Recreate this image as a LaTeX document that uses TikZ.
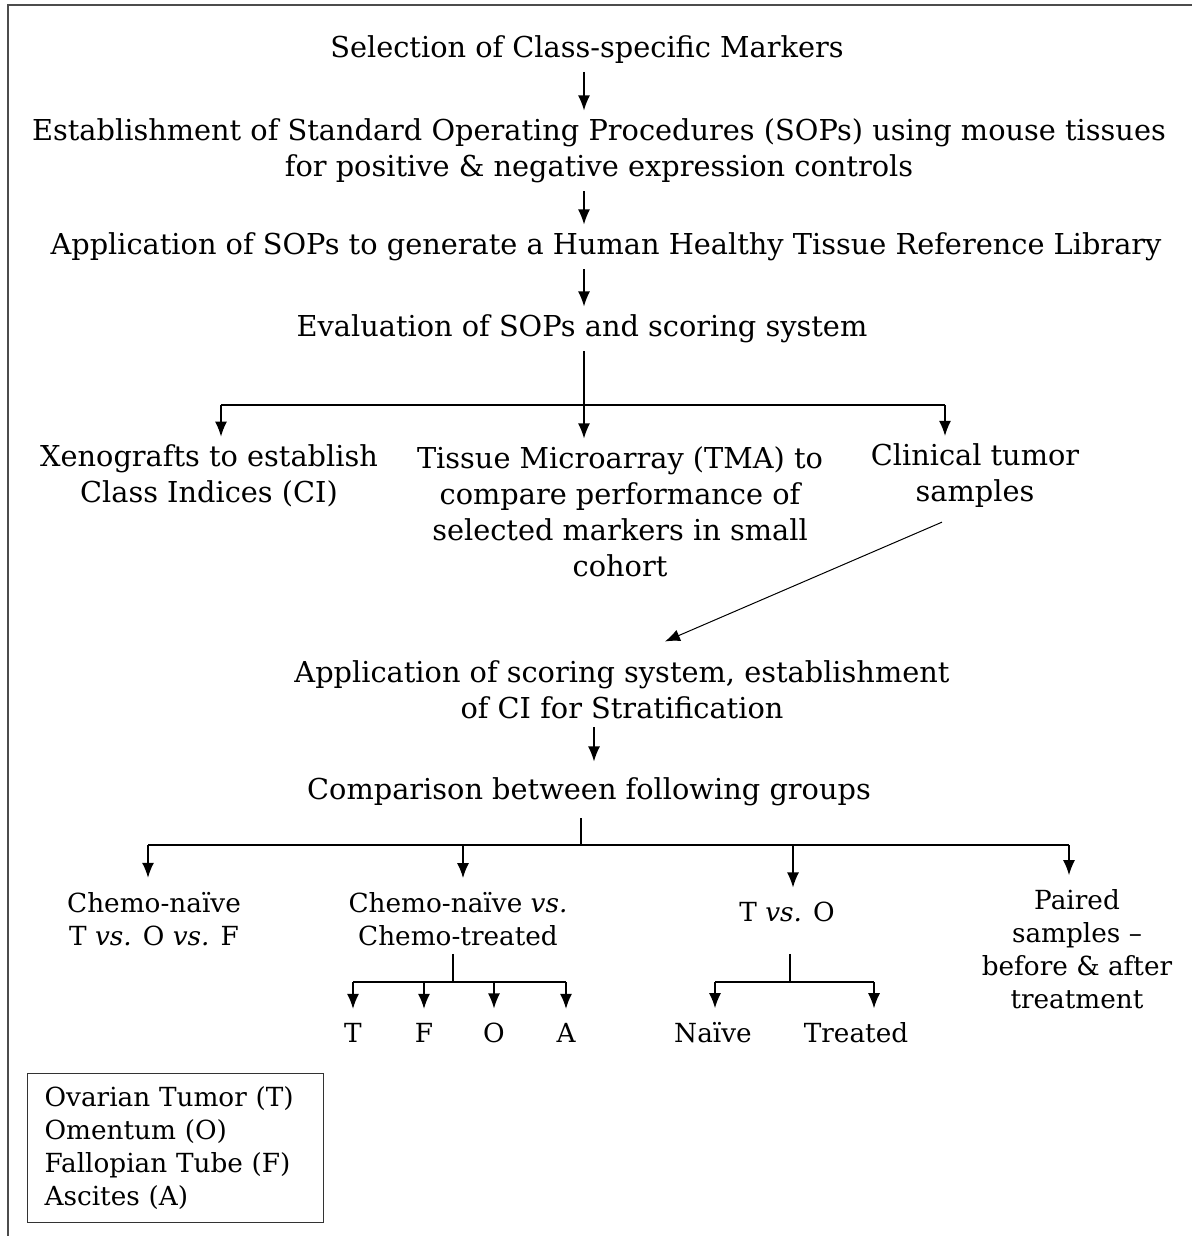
\documentclass[tikz,border=0pt]{standalone}
\usepackage{fontspec}
\setmainfont{DejaVu Serif}
\usetikzlibrary{arrows.meta}
\tikzset{
  stepbox/.style={align=center, inner xsep=8pt, inner ysep=8pt, font=\fontsize{28.8}{36}\selectfont},
  groupbox/.style={align=center, inner xsep=6pt, inner ysep=14pt, font=\fontsize{26.3}{33}\selectfont},
  legendbox/.style={draw=black!80, line width=1.2pt, align=left, text width=262pt,
    inner xsep=17pt, inner ysep=13pt, font=\fontsize{26.3}{33}\selectfont},
  link/.style={line width=1.3pt},
  arr/.style={link, -{Latex[length=15pt,width=12pt]}},
}
\newcommand{\versus}{\textit{vs.}}

\begin{document}
\begin{tikzpicture}[x=1pt,y=-1pt]
  \useasboundingbox (0,0) rectangle (1192,1236);
  % frame
  \draw[line width=1.8pt,black!70] (8,1236) -- (8,5) -- (1192,5);

  % main column
  \coordinate (spine) at (584,0);
  \node[stepbox] (select) at (587,49.8) {Selection of Class-specific Markers};
  \node[stepbox] (sops) at (599,150.8)
    {Establishment of Standard Operating Procedures (SOPs) using mouse tissues\\
     for positive \& negative expression controls};
  \node[stepbox] (library) at (606,246.8)
    {Application of SOPs to generate a Human Healthy Tissue Reference Library};
  \node[stepbox] (evalsop) at (582,328.8) {Evaluation of SOPs and scoring system};
  \draw[arr] (select.south -| spine) -- (sops.north -| spine);
  \draw[arr] (sops.south -| spine) -- (library.north -| spine);
  \draw[arr] (library.south -| spine) -- (evalsop.north -| spine);

  % three studies
  \node[stepbox] (xeno) at (209,476) {Xenografts to establish\\Class Indices (CI)};
  \node[stepbox] (tma) at (620,511.8)
    {Tissue Microarray (TMA) to\\compare performance of\\selected markers in small\\cohort};
  \node[stepbox] (clinic) at (975,476) {Clinical tumor\\samples};
  \coordinate (fork) at (584,405);
  \coordinate (xfork) at (221,405);
  \coordinate (cfork) at (945,405);
  \draw[link] (evalsop.south -| spine) -- (fork);
  \draw[link] (xfork) -- (cfork);
  \draw[arr] (xfork) -- (xfork |- xeno.north);
  \draw[arr] (fork) -- (fork |- tma.north);
  \draw[arr] (cfork) -- (cfork |- clinic.north);

  \node[stepbox] (score) at (622,689.8)
    {Application of scoring system, establishment\\of CI for Stratification};
  \draw[arr, line width=1pt] ([xshift=-33pt,yshift=-6pt]clinic.south)
    -- ([xshift=43pt,yshift=11pt]score.north);

  \node[stepbox] (compare) at (589,791.8) {Comparison between following groups};
  \coordinate (smid) at (594,0);
  \draw[arr, shorten >=8pt] (score.south -| smid) -- (compare.north -| smid);

  % groups
  \node[groupbox] (naive) at (154,918.7) {Chemo-naïve\\T \versus{} O \versus{} F};
  \node[groupbox] (chemo) at (458,919) {Chemo-naïve \versus\\Chemo-treated};
  \node[groupbox] (tvso) at (787,911.6) {T \versus{} O};
  \node[groupbox] (paired) at (1077,949) {Paired\\samples –\\before \& after\\treatment};
  \coordinate (gfork) at (581,845);
  \coordinate (g1) at (148,845);
  \coordinate (g2) at (463,845);
  \coordinate (g3) at (793,845);
  \coordinate (g4) at (1069,845);
  \draw[link, shorten <=4pt] (compare.south -| gfork) -- (gfork);
  \draw[link] (g1) -- (g4);
  \draw[arr] (g1) -- (g1 |- naive.north);
  \draw[arr] (g2) -- (g2 |- chemo.north);
  \draw[arr] (g3) -- (g3 |- tvso.north);
  \draw[arr] (g4) -- (g4 |- paired.north);

  % sites
  \node[groupbox] (siteT) at (353,1032.6) {T};
  \node[groupbox] (siteF) at (424,1032.6) {F};
  \node[groupbox] (siteO) at (494,1032.6) {O};
  \node[groupbox] (siteA) at (566,1032.6) {A};
  \coordinate (kfork) at (453,982);
  \draw[link, shorten <=-6pt] (chemo.south -| kfork) -- (kfork);
  \draw[link] (siteT |- kfork) -- (siteA |- kfork);
  \foreach \s in {siteT,siteF,siteO,siteA}
    \draw[arr] (\s |- kfork) -- (\s.north);

  % naive / treated
  \node[groupbox] (untreated) at (713,1032.6) {Naïve};
  \node[groupbox] (treated) at (856,1032.6) {Treated};
  \coordinate (tfork) at (790,982);
  \coordinate (nfork) at (715,982);
  \coordinate (rfork) at (874,982);
  \draw[link, shorten <=18pt] (tvso.south -| tfork) -- (tfork);
  \draw[link] (nfork) -- (rfork);
  \draw[arr] (nfork) -- (nfork |- untreated.north);
  \draw[arr] (rfork) -- (rfork |- treated.north);

  % legend
  \node[legendbox, anchor=north west] (legend) at (27,1073)
    {Ovarian Tumor (T)\\Omentum (O)\\Fallopian Tube (F)\\Ascites (A)};
\end{tikzpicture}
\end{document}
